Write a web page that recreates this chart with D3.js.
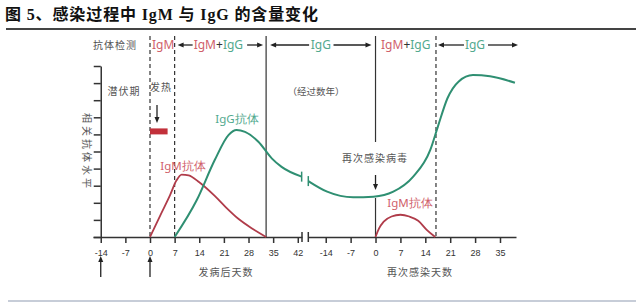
<!DOCTYPE html>
<html><head><meta charset="utf-8">
<script src="https://cdn.jsdelivr.net/npm/d3@7"></script>
<style>body{margin:0;background:#fff} svg{display:block}</style>
</head><body>
<svg id="c" width="640" height="303"></svg>
<script>
const titleText = "图 5、感染过程中 IgM 与 IgG 的含量变化";
const ticks1 = [-14,-7,0,7,14,21,28,35,42];
const ticks2 = [-14,-7,0,7,14,21,28,35];
const levelTicks = [0,1,2,3,4,5,6,7,8,9,10];
// [day, level]
const igm1 = [[0,0],[3,1.3],[5.7,2.45],[7.5,3.3],[9,3.65],[11,3.6],[14,3.2],[18.4,2.4],[21.5,1.75],[25.2,1.05],[29,0.5],[33,0]];
const igg1 = [[7,0],[13.3,2.16],[18.4,4.5],[22.3,5.96],[24.6,6.26],[27,6.15],[30.8,5.57],[34.6,4.6],[37.4,4.1],[43.1,3.53]];
const igg2 = [[-18.9,3.27],[-13.6,2.65],[-6.3,2.32],[-0.6,2.36],[5,2.65],[10.6,3.53],[15.4,5.09],[17.6,6.5],[20.2,8.1],[23.4,9.1],[27.4,9.47],[32.2,9.4],[39.2,9.02]];
const igm2 = [[0,0],[1,0.5],[2.3,0.9],[4.5,1.2],[7,1.3],[9.5,1.2],[12,0.95],[14.4,0.42],[16.8,0]];
const fever = [0, 5, 6.0, 6.35]; // day start, day end, level low, level high

const RED = "#b03c4a", REDT = "#d0606a", GRN = "#2f8f72", GRNT = "#52a98e", GRAY = "#555", AX = "#333";
const svg = d3.select("#c");
const xs1 = d3.scaleLinear().domain([-16.2,43.2]).range([93,302]);
const xs2 = d3.scaleLinear().domain([-18.9,39.5]).range([308.3,516]);
const y = d3.scaleLinear().domain([0,10]).range([237,66]);
const cjk = "'Liberation Serif','Noto Sans CJK SC',serif";
const sans = "'Noto Sans','Liberation Sans',sans-serif";

// title
svg.append("text").attr("x",5).attr("y",20).attr("font-family",cjk).attr("font-weight","bold")
  .attr("font-size",16).attr("textLength",313).attr("lengthAdjust","spacing").attr("fill","#111").text(titleText);
svg.append("line").attr("x1",6).attr("x2",636).attr("y1",29).attr("y2",29).attr("stroke","#444").attr("stroke-width",1.8);
svg.append("line").attr("x1",8).attr("x2",636).attr("y1",301).attr("y2",301).attr("stroke","#b5bccb").attr("stroke-width",1.5);

// phase lines
const topY = 36;
function vline(x, y1, y2, dashed){
  svg.append("line").attr("x1",x).attr("x2",x).attr("y1",y1).attr("y2",y2)
    .attr("stroke","#333").attr("stroke-width",1.2).attr("stroke-dasharray",dashed?"4,3":null);
}
vline(xs1(0), topY, y(0), true);
vline(xs1(7), topY, y(0), true);
vline(xs1(33), topY, y(0), false);
vline(xs2(0), topY, 142, false);
vline(xs2(0), 198, y(0), false);
vline(xs2(17), topY, y(0), true);

// axes
const fmt = d => String(d);
const ya = svg.append("g").attr("transform",`translate(${xs1(-14)},0)`)
  .call(d3.axisLeft(y).tickValues(levelTicks).tickSize(7).tickSizeOuter(0).tickFormat(""));
const xa1 = svg.append("g").attr("transform",`translate(0,${y(0)})`)
  .call(d3.axisBottom(xs1).tickValues(ticks1).tickSize(6).tickSizeOuter(0).tickPadding(7).tickFormat(fmt));
const xa2 = svg.append("g").attr("transform",`translate(0,${y(0)})`)
  .call(d3.axisBottom(xs2).tickValues(ticks2).tickSize(6).tickSizeOuter(0).tickPadding(7).tickFormat(fmt));
[ya,xa1,xa2].forEach(g=>{
  g.selectAll("path,line").attr("stroke",AX).attr("stroke-width",1.5);
  g.selectAll("text").attr("fill",AX).attr("font-size",9).attr("font-family","'Liberation Sans',sans-serif");
});
// axis break
[xs1.range()[1], xs2.range()[0]].forEach(x=>{
  svg.append("line").attr("x1",x).attr("x2",x).attr("y1",y(0)-5).attr("y2",y(0)+5).attr("stroke",AX).attr("stroke-width",1.5);
});

// curves
const line1 = d3.line().x(d=>xs1(d[0])).y(d=>y(d[1])).curve(d3.curveMonotoneX);
const line2 = d3.line().x(d=>xs2(d[0])).y(d=>y(d[1])).curve(d3.curveMonotoneX);
svg.append("path").attr("d",line1(igm1)).attr("fill","none").attr("stroke",RED).attr("stroke-width",1.8);
svg.append("path").attr("d",line1(igg1)).attr("fill","none").attr("stroke",GRN).attr("stroke-width",2);
svg.append("path").attr("d",line2(igg2)).attr("fill","none").attr("stroke",GRN).attr("stroke-width",2);
svg.append("path").attr("d",line2(igm2)).attr("fill","none").attr("stroke",RED).attr("stroke-width",1.8);
// curve break marks
[[xs1(igg1[igg1.length-1][0]), y(igg1[igg1.length-1][1])],[xs2(igg2[0][0]), y(igg2[0][1])]].forEach(([x,yy])=>{
  svg.append("line").attr("x1",x).attr("x2",x).attr("y1",yy-5).attr("y2",yy+5).attr("stroke",GRN).attr("stroke-width",1.5);
});

// fever bar
svg.append("rect").attr("x",xs1(fever[0])).attr("width",xs1(fever[1])-xs1(fever[0]))
  .attr("y",y(fever[3])).attr("height",y(fever[2])-y(fever[3])).attr("fill","#c2303a");

// arrows
function arrowV(x, y1, y2){ // from y1 to y2 (head at y2)
  const dir = y2>y1?1:-1;
  svg.append("line").attr("x1",x).attr("x2",x).attr("y1",y1).attr("y2",y2-dir*4).attr("stroke","#222").attr("stroke-width",1.3);
  svg.append("path").attr("d",`M${x-2.5},${y2-dir*6}L${x+2.5},${y2-dir*6}L${x},${y2}Z`).attr("fill","#222");
}
function arrowH(x1, x2, yy){
  const dir = x2>x1?1:-1;
  svg.append("line").attr("x1",x1).attr("x2",x2-dir*4).attr("y1",yy).attr("y2",yy).attr("stroke","#222").attr("stroke-width",1.3);
  svg.append("path").attr("d",`M${x2-dir*6},${yy-2.5}L${x2-dir*6},${yy+2.5}L${x2},${yy}Z`).attr("fill","#222");
}
arrowV(157, 105, 123);
arrowV(xs2(0), 175, 190);
arrowV(xs1(-14), 277, 256);
arrowV(xs1(0), 277, 256);

// header row
const hy = 45;
function txt(x, yy, s, opts={}){
  return svg.append("text").attr("x",x).attr("y",yy).attr("dy","0.35em")
    .attr("text-anchor",opts.anchor||"start").attr("font-family",opts.font||cjk)
    .attr("font-size",opts.size||10).attr("fill",opts.fill||GRAY)
    .attr("letter-spacing",opts.ls||0).attr("font-weight",opts.weight||"normal").text(s);
}
txt(93, hy, "抗体检测", {size:10, ls:1});
txt(xs1(0)+2, hy, "IgM", {font:sans, size:12, fill:REDT});
function mixed(cx, yy){
  const t = svg.append("text").attr("x",cx).attr("y",yy).attr("dy","0.35em").attr("text-anchor","middle")
    .attr("font-family",sans).attr("font-size",12);
  t.append("tspan").attr("fill",REDT).text("IgM");
  t.append("tspan").attr("fill","#333").text("+");
  t.append("tspan").attr("fill",GRNT).text("IgG");
}
mixed((xs1(7)+xs1(33))/2 - 2, hy);
arrowH(xs1(7)+18, xs1(7)+3, hy);
arrowH(xs1(33)-19, xs1(33)-3, hy);
txt((xs1(33)+xs2(0))/2, hy, "IgG", {font:sans, size:12, fill:GRNT, anchor:"middle"});
arrowH(xs1(33)+43, xs1(33)+4, hy);
arrowH(xs2(0)-42, xs2(0)-4, hy);
mixed((xs2(0)+xs2(17))/2, hy);
txt(475, hy, "IgG", {font:sans, size:12, fill:GRNT, anchor:"middle"});
arrowH(xs2(17)+28, xs2(17)+2, hy);
arrowH(488, 518, hy);

// labels
txt(124, 91, "潜伏期", {anchor:"middle", ls:1});
txt(161, 87, "发热", {anchor:"middle", ls:1});
txt(237, 119, "IgG抗体", {font:sans, size:11.5, fill:GRNT, anchor:"middle"});
txt(183, 166, "IgM抗体", {font:sans, size:11.5, fill:REDT, anchor:"middle"});
txt(316, 92, "（经过数年）", {anchor:"middle", size:9.5});
txt(375, 158, "再次感染病毒", {anchor:"middle", ls:1});
txt(410, 203, "IgM抗体", {font:sans, size:11.5, fill:REDT, anchor:"middle"});
txt(226, 272, "发病后天数", {anchor:"middle", ls:1});
txt(420, 272, "再次感染天数", {anchor:"middle", ls:1});
svg.append("text").attr("transform","translate(86,152) rotate(90)").attr("text-anchor","middle").attr("dy","0.35em")
  .attr("font-family",cjk).attr("font-size",10).attr("letter-spacing",3).attr("fill",GRAY).text("相关抗体水平");
</script>
</body></html>
